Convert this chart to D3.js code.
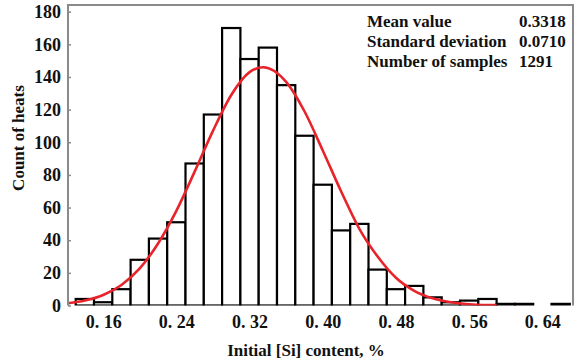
<!DOCTYPE html>
<html>
<head>
<meta charset="utf-8">
<script src="https://cdn.jsdelivr.net/npm/d3@7/dist/d3.min.js"></script>
<style>
  body { margin: 0; background: #fff; }
  text { font-family: "Liberation Serif", "DejaVu Serif", serif; font-weight: bold; fill: #111; }
</style>
</head>
<body>
<svg id="chart" width="577" height="360"></svg>
<script>
// Histogram bins, 0.02 wide, starting at 0.13
var binStarts = [0.13, 0.15, 0.17, 0.19, 0.21, 0.23, 0.25, 0.27, 0.29, 0.31, 0.33, 0.35, 0.37, 0.39,
                 0.41, 0.43, 0.45, 0.47, 0.49, 0.51, 0.53, 0.55, 0.57, 0.59, 0.61, 0.63, 0.65];
var binCounts = [4, 2, 10, 28, 41, 51, 87, 117, 170, 151, 158, 135, 104, 74,
                 46, 50, 22, 10, 12, 5, 2, 3, 4, 1, 1, 0, 1];
var binWidth = 0.02;

// Fitted normal curve
var curveX = [0.1216, 0.14, 0.16, 0.18, 0.20, 0.22, 0.24, 0.26, 0.28, 0.30, 0.32, 0.335, 0.36,
              0.38, 0.40, 0.42, 0.44, 0.46, 0.48, 0.50, 0.52, 0.54, 0.56, 0.58, 0.59];
var curveY = [1.4, 3, 6.4, 12.6, 22.7, 38, 58, 82, 107, 129, 143, 146, 137,
              119, 95, 70, 47, 30, 17, 9, 4.4, 2, 0.8, 0.3, 0.2];

var xTicks = [0.16, 0.24, 0.32, 0.40, 0.48, 0.56, 0.64];
var yTicks = [0, 20, 40, 60, 80, 100, 120, 140, 160, 180];

var statNames = ['Mean value', 'Standard deviation', 'Number of samples'];
var statValues = ['0.3318', '0.0710', '1291'];

function render() {
  var svg = d3.select('#chart');
  var left = 68, right = 573, top = 5, bottom = 305.5;

  var x = d3.scaleLinear().domain([0.12158, 0.6735]).range([left, right]);
  var y = d3.scaleLinear().domain([0, 184.1]).range([bottom, top]);

  svg.append('clipPath').attr('id', 'plotclip')
    .append('rect')
      .attr('x', left).attr('y', top)
      .attr('width', right - left).attr('height', bottom - top);

  var bins = binStarts.map(function(s, i) { return { x0: s, count: binCounts[i] }; })
    .filter(function(d) { return d.count > 0; });

  var plot = svg.append('g').attr('clip-path', 'url(#plotclip)');

  // bars
  plot.selectAll('.bar')
    .data(bins)
    .enter()
    .append('rect')
      .attr('class', 'bar')
      .attr('x', function(d) { return x(d.x0); })
      .attr('y', function(d) { return y(d.count); })
      .attr('width', function(d) { return x(d.x0 + binWidth) - x(d.x0); })
      .attr('height', function(d) { return y(0) - y(d.count); })
      .attr('fill', '#fff')
      .attr('stroke', '#000')
      .attr('stroke-width', 2.2);

  // normal fit
  var pts = curveX.map(function(v, i) { return [v, curveY[i]]; });
  var line = d3.line()
    .x(function(d) { return x(d[0]); })
    .y(function(d) { return y(d[1]); })
    .curve(d3.curveMonotoneX);
  plot.append('path')
    .datum(pts)
    .attr('d', line)
    .attr('fill', 'none')
    .attr('stroke', '#e8242a')
    .attr('stroke-width', 2.6);

  // frame
  svg.append('path')
    .attr('d', 'M' + left + ',' + bottom + 'V' + top + 'H' + right + 'V' + bottom)
    .attr('fill', 'none')
    .attr('stroke', '#8a8a8a')
    .attr('stroke-width', 2);

  // y axis
  var yAxis = d3.axisLeft(y).tickValues(yTicks).tickSize(-3).tickPadding(7);
  var gy = svg.append('g').attr('transform', 'translate(' + left + ',0)').call(yAxis);
  gy.select('.domain').remove();
  gy.selectAll('line').attr('stroke', '#8a8a8a').attr('stroke-width', 1.5);
  gy.selectAll('text').attr('font-size', 18).attr('fill', '#111').attr('font-family', null);

  // x axis
  var xAxis = d3.axisBottom(x).tickValues(xTicks).tickSize(0).tickPadding(10)
    .tickFormat(function(d) { return d3.format('.2f')(d).replace('.', '. '); });
  var gx = svg.append('g').attr('transform', 'translate(0,' + bottom + ')').call(xAxis);
  gx.select('.domain').remove();
  gx.selectAll('text').attr('font-size', 18).attr('fill', '#111').attr('font-family', null)
    .style('white-space', 'pre');

  // axis titles
  svg.append('text')
    .attr('x', 306).attr('y', 356)
    .attr('text-anchor', 'middle')
    .attr('font-size', 17)
    .text('Initial [Si] content, %');

  svg.append('text')
    .attr('transform', 'translate(24,138) rotate(-90)')
    .attr('text-anchor', 'middle')
    .attr('font-size', 17)
    .text('Count of heats');

  // stats box
  var stats = svg.append('g');
  stats.selectAll('.sname')
    .data(statNames)
    .enter()
    .append('text')
      .attr('x', 367)
      .attr('y', function(d, i) { return 27 + i * 20; })
      .attr('font-size', 17)
      .text(function(d) { return d; });
  stats.selectAll('.sval')
    .data(statValues)
    .enter()
    .append('text')
      .attr('x', 519)
      .attr('y', function(d, i) { return 27 + i * 20; })
      .attr('font-size', 17)
      .text(function(d) { return d; });
}

render();
</script>
</body>
</html>
